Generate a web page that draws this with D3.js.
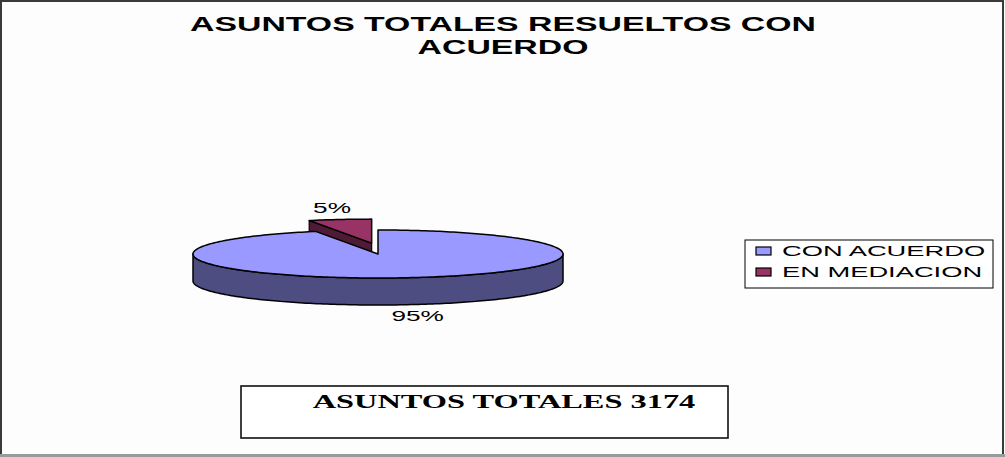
<!DOCTYPE html>
<html>
<head>
<meta charset="utf-8">
<script src="https://cdn.jsdelivr.net/npm/d3@7"></script>
<style>
  body { margin: 0; background: #ffffff; }
  svg { display: block; }
</style>
</head>
<body>
<div id="chart"></div>
<script>
// chart data
var categories = ['CON ACUERDO', 'EN MEDIACION'];
var values = [3000, 174];
var colors = ['#9999ff', '#993366'];
var sideColors = ['#4d4d82', '#4f1a36'];
var titleLines = ['ASUNTOS TOTALES RESUELTOS CON', 'ACUERDO'];
var totalLabel = 'ASUNTOS TOTALES 3174';

var svgWidth = 1005;
var svgHeight = 457;

var svg = d3.select('#chart').append('svg')
  .attr('width', svgWidth)
  .attr('height', svgHeight);

// outer frame
svg.append('rect')
  .attr('x', 0).attr('y', 0)
  .attr('width', svgWidth).attr('height', svgHeight)
  .attr('fill', '#fdfdfd');
svg.append('rect')
  .attr('x', 1).attr('y', 1)
  .attr('width', 1002).attr('height', 454)
  .attr('fill', 'none')
  .attr('stroke', '#3a3a3a')
  .attr('stroke-width', 2);
svg.append('rect')
  .attr('x', 0).attr('y', 454)
  .attr('width', svgWidth).attr('height', 3)
  .attr('fill', '#9a9a9a');

// stretched text helper: glyphs in the reference are wide
function stretchText(parent, str, x, y, factor, opts) {
  var t = parent.append('text')
    .attr('x', 0).attr('y', 0)
    .attr('text-anchor', opts.anchor || 'middle')
    .attr('font-family', opts.family || "'Liberation Sans', Arial, sans-serif")
    .attr('font-size', opts.size)
    .attr('font-weight', opts.weight || 'normal')
    .attr('fill', '#000')
    .attr('transform', `translate(${x}, ${y}) scale(${factor}, 1)`)
    .text(str);
  return t;
}

// title
titleLines.forEach(function(line, i) {
  stretchText(svg, line, 503, 31 + i * 23, 1.69, {size: 20, weight: 'bold'});
});

// 3d pie
var cx = 378, cy = 254, rx = 185, ry = 24, depth = 27;
var explodeX = 0.2, explodeY = 0.46;

var pie = d3.pie().sort(null).value(d => d);
var arcs = pie(values);

function pt(a, ox, oy, dz) {
  return [cx + ox + rx * Math.sin(a), cy + oy - ry * Math.cos(a) + (dz || 0)];
}

function arcPoints(a0, a1, ox, oy, dz) {
  var n = Math.max(2, Math.ceil(Math.abs(a1 - a0) / 0.02));
  var pts = [];
  for (var i = 0; i <= n; i++) {
    pts.push(pt(a0 + (a1 - a0) * i / n, ox, oy, dz));
  }
  return pts;
}

var line = d3.line();

arcs.forEach(function(d, i) {
  d.ox = 0; d.oy = 0;
  if (i === 1) {
    var mid = (d.startAngle + d.endAngle) / 2;
    d.ox = Math.sin(mid) * explodeX * rx;
    d.oy = -Math.cos(mid) * explodeY * ry;
  }
});

var pieGroup = svg.append('g');

// draw back (exploded) slice first, then main slice
[1, 0].forEach(function(i) {
  var d = arcs[i];
  var apex = [cx + d.ox, cy + d.oy];
  var apexLow = [apex[0], apex[1] + depth];

  // radial face at start angle if it faces the viewer
  var nStart = d.startAngle - Math.PI / 2;
  if (Math.cos(nStart) < -0.01) {
    var p = pt(d.startAngle, d.ox, d.oy);
    pieGroup.append('path')
      .attr('d', line([apex, p, [p[0], p[1] + depth], apexLow]) + 'Z')
      .attr('fill', sideColors[i])
      .attr('stroke', '#000')
      .attr('stroke-width', 1.2)
      .attr('stroke-linejoin', 'round');
  }
  // radial face at end angle if it faces the viewer
  var nEnd = d.endAngle + Math.PI / 2;
  if (Math.cos(nEnd) < -0.01) {
    var q = pt(d.endAngle, d.ox, d.oy);
    pieGroup.append('path')
      .attr('d', line([apex, q, [q[0], q[1] + depth], apexLow]) + 'Z')
      .attr('fill', sideColors[i])
      .attr('stroke', '#000')
      .attr('stroke-width', 1.2)
      .attr('stroke-linejoin', 'round');
  }

  // outer side: front half only
  var s0 = Math.max(d.startAngle, Math.PI / 2);
  var s1 = Math.min(d.endAngle, Math.PI * 1.5);
  if (s1 > s0) {
    var top = arcPoints(s0, s1, d.ox, d.oy, 0);
    var bot = arcPoints(s1, s0, d.ox, d.oy, depth);
    pieGroup.append('path')
      .attr('d', line(top.concat(bot)) + 'Z')
      .attr('fill', sideColors[i])
      .attr('stroke', '#000')
      .attr('stroke-width', 1.5)
      .attr('stroke-linejoin', 'round');
  }

  // top face
  var face = [apex].concat(arcPoints(d.startAngle, d.endAngle, d.ox, d.oy, 0));
  pieGroup.append('path')
    .attr('d', line(face) + 'Z')
    .attr('fill', colors[i])
    .attr('stroke', '#000')
    .attr('stroke-width', 1.5)
    .attr('stroke-linejoin', 'round');
});

// percentage labels
var total = d3.sum(values);
arcs.forEach(function(d, i) {
  var mid = (d.startAngle + d.endAngle) / 2;
  var k = 1.25;
  var x = cx + d.ox + rx * Math.sin(mid) * k;
  var y = cy + d.oy - ry * Math.cos(mid) * k;
  if (Math.cos(mid) < 0) y += depth + 10; else y -= 1;
  var pct = Math.round(d.value / total * 100) + '%';
  stretchText(svg, pct, x, y, 1.75, {size: 15});
});

// legend
var legend = svg.append('g');
legend.append('rect')
  .attr('x', 745).attr('y', 240)
  .attr('width', 248).attr('height', 48)
  .attr('fill', '#fff')
  .attr('stroke', '#000')
  .attr('stroke-width', 1);

categories.forEach(function(c, i) {
  var y = 247 + i * 21;
  legend.append('rect')
    .attr('x', 756).attr('y', y)
    .attr('width', 15).attr('height', 8)
    .attr('fill', colors[i])
    .attr('stroke', '#000')
    .attr('stroke-width', 1.2);
  stretchText(legend, c, 782, y + 9, 1.82, {size: 15, anchor: 'start'});
});

// total box
svg.append('rect')
  .attr('x', 241).attr('y', 386)
  .attr('width', 487).attr('height', 52)
  .attr('fill', '#fff')
  .attr('stroke', '#111')
  .attr('stroke-width', 1.6);
stretchText(svg, totalLabel, 504, 408, 1.8,
  {size: 18, weight: 'bold', family: "'Liberation Serif', 'Times New Roman', serif"});
</script>
</body>
</html>
